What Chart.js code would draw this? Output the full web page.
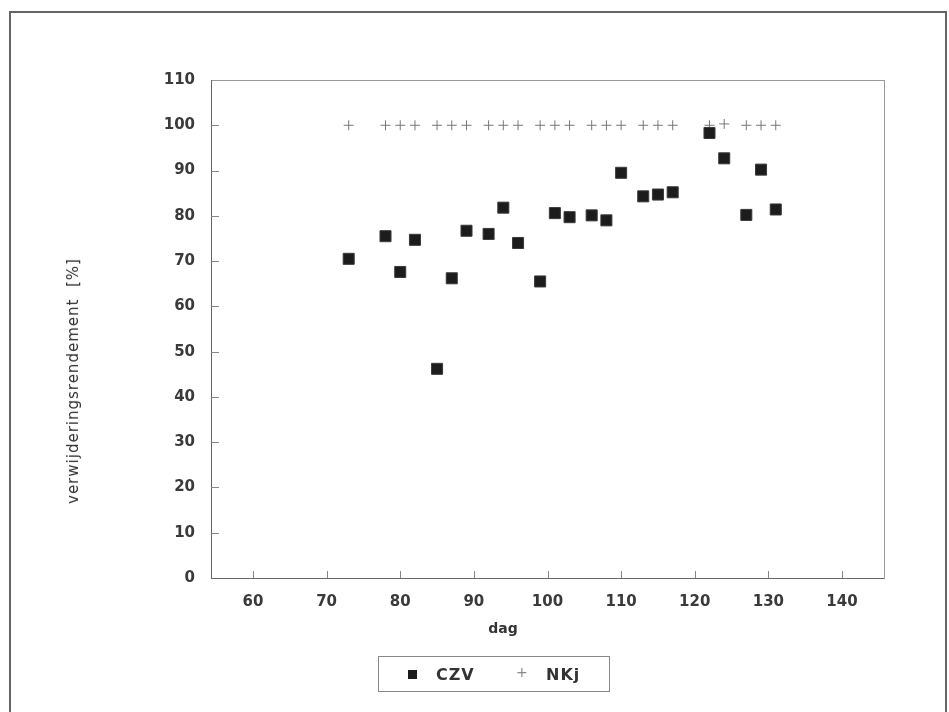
<!DOCTYPE html>
<html>
<head>
<meta charset="utf-8">
<script src="https://cdn.jsdelivr.net/npm/chart.js@4/dist/chart.umd.min.js"></script>
<style>
  html, body { margin: 0; padding: 0; background: #fff; }
  #wrap { position: relative; width: 949px; height: 712px; overflow: hidden; font-family: "DejaVu Sans", sans-serif; color: #333; }
  #frame { position: absolute; left: 9px; top: 11px; width: 934px; height: 760px; border: 2px solid #666; }
  #chart { position: absolute; left: 0; top: 0; }
  #ytitle { position: absolute; left: 73px; top: 381px; transform: translate(-50%, -50%) rotate(-90deg); white-space: nowrap; font-size: 15px; letter-spacing: 1px; color: #333; }
  #xtitle { position: absolute; left: 503px; top: 628px; transform: translate(-50%, -50%); font-size: 14px; font-weight: bold; color: #333; }
  #legend { position: absolute; left: 378px; top: 656px; width: 230px; height: 34px; border: 1px solid #888; }
  #legend .sq { position: absolute; left: 29px; top: 13px; width: 9px; height: 9px; background: #1c1c1c; }
  #legend .lbl { position: absolute; top: 8px; font-size: 16px; font-weight: bold; color: #333; letter-spacing: 1px; }
  #legend .plus { position: absolute; left: 137px; top: 7px; font-size: 14px; color: #888; }
</style>
</head>
<body>
<div id="wrap">
  <div id="frame"></div>
  <canvas id="chart" width="949" height="712"></canvas>
  <div id="ytitle">verwijderingsrendement &nbsp;[%]</div>
  <div id="xtitle">dag</div>
  <div id="legend">
    <span class="sq"></span><span class="lbl" style="left:57px">CZV</span>
    <span class="plus">+</span><span class="lbl" style="left:167px">NKj</span>
  </div>
</div>
<script>
// measurement days and removal efficiency (%)
const days = [73, 78, 80, 82, 85, 87, 89, 92, 94, 96, 99, 101, 103, 106, 108, 110, 113, 115, 117, 122, 124, 127, 129, 131];
const czv = [70.5, 75.5, 67.6, 74.7, 46.2, 66.2, 76.7, 76.0, 81.8, 74.0, 65.5, 80.6, 79.7, 80.1, 79.0, 89.5, 84.3, 84.7, 85.2, 98.3, 92.7, 80.2, 90.2, 81.4];
const nkj = [100, 100, 100, 100, 100, 100, 100, 100, 100, 100, 100, 100, 100, 100, 100, 100, 100, 100, 100, 100, 100.3, 100, 100, 100];
const xTicks = [60, 70, 80, 90, 100, 110, 120, 130, 140];
const yTicks = [0, 10, 20, 30, 40, 50, 60, 70, 80, 90, 100, 110];

const tickFont = { family: "DejaVu Sans", size: 15, weight: "bold" };

// box round the plot and short tick marks pointing inwards
const plotFrame = {
  id: "plotFrame",
  beforeDatasetsDraw(chart) {
    const { ctx, chartArea: a, scales } = chart;
    ctx.save();
    ctx.lineWidth = 1;
    ctx.strokeStyle = "#999";
    ctx.strokeRect(a.left + 0.5, a.top + 0.5, a.right - a.left, a.bottom - a.top);
    ctx.strokeStyle = "#666";
    ctx.beginPath();
    ctx.moveTo(a.left + 0.5, a.top);
    ctx.lineTo(a.left + 0.5, a.bottom + 0.5);
    ctx.lineTo(a.right, a.bottom + 0.5);
    ctx.stroke();
    ctx.strokeStyle = "#888";
    ctx.beginPath();
    xTicks.forEach(v => {
      const px = Math.round(scales.x.getPixelForValue(v)) + 0.5;
      ctx.moveTo(px, a.bottom);
      ctx.lineTo(px, a.bottom - 7);
    });
    yTicks.forEach(v => {
      if (v === 0 || v === 110) return;
      const py = Math.round(scales.y.getPixelForValue(v)) + 0.5;
      ctx.moveTo(a.left, py);
      ctx.lineTo(a.left + 8, py);
    });
    ctx.stroke();
    ctx.restore();
  }
};

new Chart(document.getElementById("chart"), {
  type: "scatter",
  data: {
    datasets: [
      {
        label: "CZV",
        data: days.map((d, i) => ({ x: d, y: czv[i] })),
        pointStyle: "rect",
        pointRadius: 7.8,
        backgroundColor: "#1c1c1c",
        borderColor: "#3a3a3a",
        borderWidth: 1
      },
      {
        label: "NKj",
        data: days.map((d, i) => ({ x: d, y: nkj[i] })),
        pointStyle: "cross",
        pointRadius: 5,
        borderColor: "#777",
        borderWidth: 1
      }
    ]
  },
  options: {
    responsive: false,
    animation: false,
    events: [],
    layout: { padding: { left: 150, right: 65, top: 80, bottom: 100 } },
    plugins: { legend: { display: false }, tooltip: { enabled: false } },
    scales: {
      x: {
        type: "linear",
        min: 54.3,
        max: 145.7,
        afterBuildTicks: s => { s.ticks = xTicks.map(v => ({ value: v })); },
        afterFit: s => { s.height = 34; },
        grid: { display: false },
        border: { display: false },
        ticks: { padding: 7, font: tickFont, color: "#3a3a3a" }
      },
      y: {
        min: 0,
        max: 110,
        afterBuildTicks: s => { s.ticks = yTicks.map(v => ({ value: v })); },
        afterFit: s => { s.width = 61; },
        grid: { display: false },
        border: { display: false },
        ticks: { padding: 8, font: tickFont, color: "#3a3a3a" }
      }
    }
  },
  plugins: [plotFrame]
});
</script>
</body>
</html>
